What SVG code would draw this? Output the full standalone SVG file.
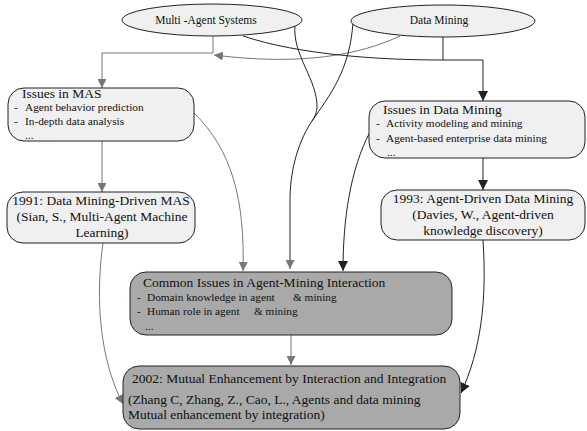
<svg xmlns="http://www.w3.org/2000/svg" width="587" height="431" viewBox="0 0 587 431">
<style>
text{font-family:"Liberation Serif","Times New Roman",serif;fill:#111}
.t{font-size:13.5px}
.b{font-size:11.3px}
.e{font-size:11.5px}
.light{fill:#f0f0f0;stroke:#222;stroke-width:1}
.dark{fill:#a9a9a9;stroke:#222;stroke-width:1}
.g{fill:none;stroke:#777;stroke-width:1}
.k{fill:none;stroke:#222;stroke-width:1}
</style>
<defs>
<marker id="ag" viewBox="0 0 10 10" refX="10" refY="5" markerWidth="9" markerHeight="9" markerUnits="userSpaceOnUse" orient="auto"><path d="M0,0 L10,5 L0,10 z" fill="#777"/></marker>
<marker id="ak" viewBox="0 0 10 10" refX="10" refY="5" markerWidth="10" markerHeight="10" markerUnits="userSpaceOnUse" orient="auto"><path d="M0,0 L10,5 L0,10 z" fill="#222"/></marker>
</defs>
<g id="connectors">
<path class="g" d="M213 36 L213 53 L102 53 L102 88" marker-end="url(#ag)"/>
<path class="g" d="M400 36 C360 55 300 66 214 55" marker-end="url(#ag)"/>
<path class="k" d="M243 36 C300 55 380 60 443 60"/>
<path class="k" d="M443 36 L443 60 L483 60 L483 101" marker-end="url(#ak)"/>
<path class="k" d="M295 25 C292 55 318 80 317 108 C316 115 314 118 312 121 C296 145 290 175 290 200 L290 269" marker-end="url(#ag)"/>
<path class="k" d="M353 22 C350 70 330 95 312 121"/>
<path class="g" d="M102 141 L102 192" marker-end="url(#ag)"/>
<path class="k" d="M483 158 L483 190" marker-end="url(#ak)"/>
<path class="g" d="M194 113 C232 150 245 200 243 271" marker-end="url(#ag)"/>
<path class="k" d="M370 132 C350 170 343 220 343 271" marker-end="url(#ak)"/>
<path class="g" d="M291 335 L291 365" marker-end="url(#ag)"/>
<path class="g" d="M103 243 C95 300 100 360 123 404" marker-end="url(#ag)"/>
<path class="k" d="M483 240 C487 300 481 350 461 393" marker-end="url(#ak)"/>
</g>
<g id="mas">
<ellipse class="light" cx="212" cy="20" rx="90" ry="16"/>
<text class="e" x="206" y="24" text-anchor="middle">Multi -Agent Systems</text>
</g>
<g id="dm">
<ellipse class="light" cx="443" cy="21" rx="92" ry="16"/>
<text class="e" x="439" y="24" text-anchor="middle">Data Mining</text>
</g>
<g id="issues-mas">
<rect class="light" x="8" y="88" width="186" height="53" rx="16"/>
<text class="t" x="22" y="98">Issues in MAS</text>
<text class="b" x="14" y="111">-</text><text class="b" x="25" y="111">Agent behavior prediction</text>
<text class="b" x="14" y="125">-</text><text class="b" x="25" y="125">In-depth data analysis</text>
<text class="b" x="25" y="139">...</text>
</g>
<g id="issues-dm">
<rect class="light" x="369" y="101" width="216" height="57" rx="16"/>
<text class="t" x="383" y="114">Issues in Data Mining</text>
<text class="b" x="376" y="127">-</text><text class="b" x="386" y="127">Activity modeling and mining</text>
<text class="b" x="376" y="142">-</text><text class="b" x="386" y="142">Agent-based enterprise data mining</text>
<text class="b" x="387" y="156">...</text>
</g>
<g id="mas-1991">
<rect class="light" x="7" y="192" width="188" height="51" rx="16"/>
<text class="t" x="101" y="205" text-anchor="middle">1991: Data Mining-Driven MAS</text>
<text class="t" x="102" y="221" text-anchor="middle">(Sian, S., Multi-Agent Machine</text>
<text class="t" x="102" y="237" text-anchor="middle">Learning)</text>
</g>
<g id="dm-1993">
<rect class="light" x="381" y="190" width="204" height="50" rx="16"/>
<text class="t" x="483" y="203" text-anchor="middle">1993: Agent-Driven Data Mining</text>
<text class="t" x="483" y="219" text-anchor="middle">(Davies, W., Agent-driven</text>
<text class="t" x="483" y="235" text-anchor="middle">knowledge discovery)</text>
</g>
<g id="common">
<rect class="dark" x="130" y="272" width="322" height="63" rx="16"/>
<text class="t" x="143" y="287">Common Issues in Agent-Mining Interaction</text>
<text class="b" x="137" y="301">-</text><text class="b" x="147" y="301">Domain knowledge in agent</text><text class="b" x="293" y="301">&amp; mining</text>
<text class="b" x="137" y="315">-</text><text class="b" x="147" y="315">Human role in agent</text><text class="b" x="254" y="315">&amp; mining</text>
<text class="b" x="145" y="330">...</text>
</g>
<g id="mutual-2002">
<rect class="dark" x="123" y="366" width="337" height="63" rx="16"/>
<text class="t" x="132" y="383">2002: Mutual Enhancement by Interaction and Integration</text>
<text class="t" x="128" y="404">(Zhang C, Zhang, Z., Cao, L., Agents and data mining</text>
<text class="t" x="128" y="419">Mutual enhancement by integration)</text>
</g>
</svg>
